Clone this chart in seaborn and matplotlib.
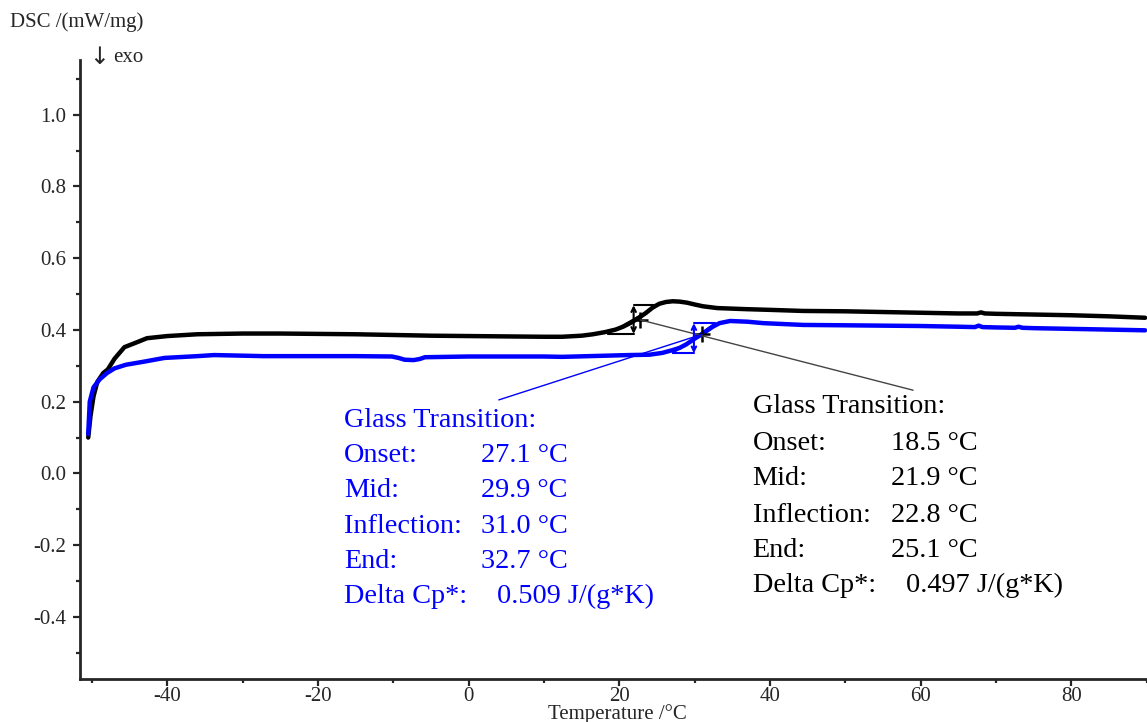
import matplotlib
matplotlib.use("Agg")
import matplotlib.pyplot as plt
import seaborn as sns
import numpy as np
import pandas as pd
from matplotlib.ticker import MultipleLocator, FormatStrFormatter

# DSC curves (temperature in degC, DSC in mW/mg)
black_t = [-50.5, -50.2, -49.8, -49.3, -48.5, -47.9, -47.0, -45.7, -44.0, -42.7, -40.0, -36.0,
           -30.0, -25.0, -20.0, -15.0, -10.0, -5.0, 0.0, 5.0, 10.0, 12.4, 15.0, 16.5, 18.1, 19.5,
           20.5, 21.7, 22.6, 23.5, 24.4, 25.3, 26.2, 27.1, 28.0, 29.0, 30.0, 31.1, 33.0, 36.8,
           40.0, 44.4, 50.0, 55.0, 60.0, 65.0, 67.5, 68.0, 68.5, 70.0, 75.0, 80.0, 85.0, 89.8]
black_dsc = [0.100, 0.160, 0.215, 0.255, 0.280, 0.290, 0.320, 0.352, 0.366, 0.377, 0.383, 0.388,
             0.390, 0.390, 0.389, 0.388, 0.386, 0.384, 0.383, 0.382, 0.381, 0.381, 0.384, 0.388, 0.394,
             0.401, 0.409, 0.422, 0.434, 0.447, 0.462, 0.473, 0.478, 0.480, 0.479, 0.476, 0.471,
             0.466, 0.461, 0.458, 0.456, 0.453, 0.452, 0.450, 0.448, 0.446, 0.446, 0.449, 0.446,
             0.445, 0.443, 0.441, 0.438, 0.434]

blue_t = [-50.5, -50.3, -49.8, -49.0, -48.0, -47.0, -45.5, -43.0, -40.4, -36.0, -33.8, -27.2,
          -20.0, -15.0, -10.2, -9.3, -8.5, -7.3, -6.5, -5.8, 0.0, 10.0, 12.4, 21.3, 24.0,
          25.7, 27.1, 28.0, 28.9, 30.1, 30.8, 31.5, 32.4, 33.3, 34.7, 37.0, 39.1, 44.4, 50.0,
          55.0, 60.0, 65.0, 67.2, 67.7, 68.2, 70.0, 72.5, 73.0, 73.5, 75.0, 80.0, 85.0, 89.8]
blue_dsc = [0.110, 0.200, 0.240, 0.262, 0.280, 0.293, 0.303, 0.312, 0.322, 0.327, 0.330, 0.327,
            0.327, 0.327, 0.326, 0.322, 0.317, 0.316, 0.319, 0.324, 0.326, 0.326, 0.325, 0.330,
            0.331, 0.336, 0.344, 0.350, 0.360, 0.377, 0.386, 0.396, 0.409, 0.419, 0.425, 0.423,
            0.419, 0.414, 0.413, 0.412, 0.411, 0.409, 0.408, 0.412, 0.408, 0.407, 0.406, 0.409,
            0.406, 0.405, 0.403, 0.401, 0.399]

# glass transition constructions: onset, mid, inflection, end temperatures and baseline levels
black_tg = {"onset": 18.5, "mid": 21.9, "infl": 22.8, "end": 25.1, "low": 0.389, "high": 0.469, "infl_y": 0.428}
blue_tg = {"onset": 27.1, "mid": 29.9, "infl": 31.0, "end": 32.7, "low": 0.335, "high": 0.419, "infl_y": 0.388}

# leader line ends (text side)
black_leader_end = (59.0, 0.232)
blue_leader_end = (4.0, 0.205)

result_labels = ["Onset:", "Mid:", "Inflection:", "End:", "Delta Cp*:"]
blue_values = ["27.1 \u00b0C", "29.9 \u00b0C", "31.0 \u00b0C", "32.7 \u00b0C", "0.509 J/(g*K)"]
black_values = ["18.5 \u00b0C", "21.9 \u00b0C", "22.8 \u00b0C", "25.1 \u00b0C", "0.497 J/(g*K)"]

sns.set_style("ticks")
plt.rcParams['font.family'] = ['Liberation Serif', 'DejaVu Serif']
plt.rcParams['axes.unicode_minus'] = False

BLUE = '#0000ff'

fig = plt.figure(figsize=(11.47, 7.22), dpi=100)
ax = fig.add_axes([0.0697, 0.0596, 0.930, 0.857])

df = pd.concat([
    pd.DataFrame({"T": black_t, "DSC": black_dsc, "run": "black"}),
    pd.DataFrame({"T": blue_t, "DSC": blue_dsc, "run": "blue"}),
])
sns.lineplot(data=df, x="T", y="DSC", hue="run", palette={"black": "black", "blue": BLUE},
             linewidth=3.2, legend=False, ax=ax, sort=False)


def construction(tg, color):
    # lower baseline, upper baseline, tangent through inflection, step arrow at mid
    ax.plot([tg["onset"], tg["mid"]], [tg["low"], tg["low"]], color=color, lw=1.5)
    ax.plot([tg["mid"], tg["end"]], [tg["high"], tg["high"]], color=color, lw=1.5)
    ax.plot([tg["onset"], tg["end"]], [tg["low"], tg["high"]], color=color, lw=1.2)
    ax.annotate("", xy=(tg["mid"], tg["high"]), xytext=(tg["mid"], tg["low"]),
                arrowprops=dict(arrowstyle="<->", color=color, lw=1.5,
                                mutation_scale=8, shrinkA=0, shrinkB=0))
    ax.plot(tg["infl"], tg["infl_y"], marker="+", color="black", markersize=11, mew=1.8)


construction(black_tg, "black")
construction(blue_tg, BLUE)

# leader lines
ax.plot([black_tg["infl"], black_leader_end[0]], [black_tg["infl_y"], black_leader_end[1]],
        color="#444444", lw=1.0)
ax.plot([blue_tg["infl"], blue_leader_end[0]], [blue_tg["infl_y"], blue_leader_end[1]],
        color=BLUE, lw=1.0)

# result texts
blue_x, blue_vx, blue_dx = -16.5, 1.7, 3.7
blue_rows = [0.130, 0.032, -0.066, -0.166, -0.263, -0.361]
black_x, black_vx, black_dx = 37.7, 56.0, 58.0
black_rows = [0.169, 0.066, -0.032, -0.135, -0.232, -0.330]
fs = 20.3

ax.text(blue_x, blue_rows[0], "Glass Transition:", color=BLUE, fontsize=fs, va="baseline")
for i, (lab, val) in enumerate(zip(result_labels, blue_values)):
    ax.text(blue_x, blue_rows[i + 1], lab, color=BLUE, fontsize=fs, va="baseline")
    vx = blue_dx if i == 4 else blue_vx
    ax.text(vx, blue_rows[i + 1], val, color=BLUE, fontsize=fs, va="baseline")

ax.text(black_x, black_rows[0], "Glass Transition:", color="black", fontsize=fs, va="baseline")
for i, (lab, val) in enumerate(zip(result_labels, black_values)):
    ax.text(black_x, black_rows[i + 1], lab, color="black", fontsize=fs, va="baseline")
    vx = black_dx if i == 4 else black_vx
    ax.text(vx, black_rows[i + 1], val, color="black", fontsize=fs, va="baseline")

# axes
ax.set_xlim(-51.6, 90)
ax.set_ylim(-0.573, 1.152)
ax.xaxis.set_major_locator(MultipleLocator(20))
ax.xaxis.set_minor_locator(MultipleLocator(10))
ax.yaxis.set_major_locator(MultipleLocator(0.2))
ax.yaxis.set_minor_locator(MultipleLocator(0.1))
ax.yaxis.set_major_formatter(FormatStrFormatter("%.1f"))
ax.xaxis.set_major_formatter(FormatStrFormatter("%d"))
ax.tick_params(which="major", direction="out", length=5, width=1.6, labelsize=15, pad=5)
ax.tick_params(axis="x", which="major", pad=0.5)
ax.tick_params(which="minor", direction="out", length=3, width=1.6)
for s in ["top", "right"]:
    ax.spines[s].set_visible(False)
for s in ["left", "bottom"]:
    ax.spines[s].set_linewidth(2)
ax.set_xlabel("")
ax.set_ylabel("")

fig.text(617 / 1147, 1 - 714 / 722, "Temperature /\u00b0C", fontsize=15, ha="center", va="center")
fig.text(10 / 1147, 1 - 22 / 722, "DSC /(mW/mg)", fontsize=15, ha="left", va="center")
fig.text(89 / 1147, 1 - 57 / 722, "\u2193", fontsize=17, ha="left", va="center",
         family=["DejaVu Sans"])
fig.text(113 / 1147, 1 - 57 / 722, "exo", fontsize=15, ha="left", va="center")

fig.savefig("out.png", dpi=100)
